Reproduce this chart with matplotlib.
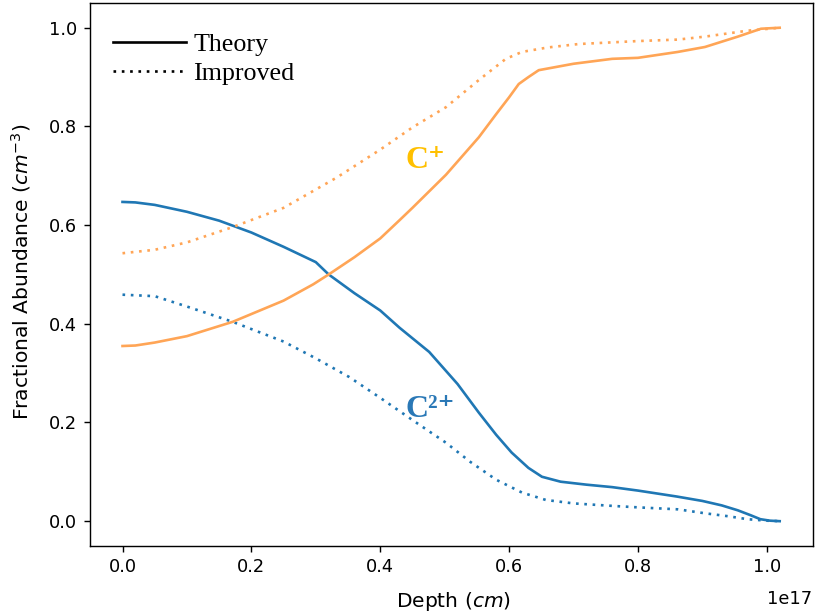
import matplotlib
matplotlib.use("Agg")
import matplotlib.pyplot as plt
import numpy as np
from matplotlib.lines import Line2D

# scale factor: picture looks like a default 6.4x4.8 figure blown up to 815 px wide
s = 1.2735
plt.rcParams['font.size'] = 10 * s
plt.rcParams['axes.linewidth'] = 0.8 * s
plt.rcParams['xtick.major.width'] = 0.8 * s
plt.rcParams['ytick.major.width'] = 0.8 * s
plt.rcParams['xtick.major.size'] = 3.5 * s
plt.rcParams['ytick.major.size'] = 3.5 * s
plt.rcParams['xtick.major.pad'] = 3.5 * s
plt.rcParams['ytick.major.pad'] = 3.5 * s

# Data (depth in units of 1e17 cm)
d_c2_theory = [0, 0.02, 0.05, 0.1, 0.15, 0.2, 0.25, 0.3, 0.32, 0.36, 0.4, 0.43, 0.476, 0.52,
               0.553, 0.58, 0.604, 0.63, 0.651, 0.68, 0.72, 0.76, 0.8, 0.86, 0.9, 0.93, 0.955,
               0.975, 0.99, 1.005, 1.02]
c2_theory = [0.647, 0.646, 0.641, 0.627, 0.609, 0.585, 0.556, 0.525, 0.5, 0.462, 0.427, 0.392,
             0.343, 0.278, 0.22, 0.175, 0.139, 0.108, 0.09, 0.08, 0.074, 0.069, 0.062, 0.05,
             0.041, 0.032, 0.022, 0.012, 0.004, 0.001, 0.0]

d_c2_improved = [0, 0.05, 0.1, 0.171, 0.25, 0.3, 0.352, 0.4, 0.45, 0.502, 0.54, 0.58, 0.62,
                 0.657, 0.7, 0.76, 0.8, 0.862, 0.904, 0.94, 0.97, 1.0, 1.02]
c2_improved = [0.459, 0.456, 0.435, 0.404, 0.364, 0.33, 0.292, 0.25, 0.205, 0.159, 0.12, 0.084,
               0.058, 0.043, 0.036, 0.031, 0.028, 0.024, 0.016, 0.01, 0.004, 0.001, 0.0]

d_c1_theory = [0, 0.02, 0.05, 0.1, 0.171, 0.25, 0.296, 0.32, 0.36, 0.4, 0.43, 0.45, 0.502, 0.553,
               0.58, 0.6, 0.615, 0.63, 0.646, 0.7, 0.76, 0.8, 0.862, 0.904, 0.955, 0.991, 1.02]
c1_theory = [0.355, 0.356, 0.362, 0.375, 0.404, 0.447, 0.48, 0.5, 0.535, 0.573, 0.61, 0.635,
             0.702, 0.778, 0.825, 0.859, 0.886, 0.9, 0.914, 0.927, 0.937, 0.939, 0.951, 0.961,
             0.982, 0.998, 1.0]

d_c1_improved = [0, 0.05, 0.1, 0.171, 0.25, 0.332, 0.4, 0.45, 0.502, 0.553, 0.595, 0.62, 0.66,
                 0.708, 0.8, 0.862, 0.904, 0.97, 1.02]
c1_improved = [0.543, 0.55, 0.565, 0.596, 0.635, 0.696, 0.753, 0.798, 0.839, 0.894, 0.937,
               0.951, 0.96, 0.967, 0.973, 0.976, 0.982, 0.994, 1.0]

blue = '#1f77b4'
orange = '#ffa556'
lw = 1.9
dots = (0, (1, 2.15))

fig = plt.figure(figsize=(8.15, 6.14), dpi=100)
ax = fig.add_axes([0.110, 0.111, 0.887, 0.884])

ax.plot(np.array(d_c2_theory) * 1e17, c2_theory, color=blue, lw=lw)
ax.plot(np.array(d_c2_improved) * 1e17, c2_improved, color=blue, lw=lw, ls=dots)
ax.plot(np.array(d_c1_theory) * 1e17, c1_theory, color=orange, lw=lw)
ax.plot(np.array(d_c1_improved) * 1e17, c1_improved, color=orange, lw=lw, ls=dots)

serif = ['Liberation Serif', 'DejaVu Serif']
ax.text(0.47e17, 0.716, 'C⁺', color='#ffc000', fontsize=23, family=serif,
        fontweight='bold', ha='center', va='baseline')
ax.text(0.478e17, 0.212, 'C²⁺', color='#2a78b6', fontsize=23, family=serif,
        fontweight='bold', ha='center', va='baseline')

handles = [Line2D([], [], color='black', lw=lw),
           Line2D([], [], color='black', lw=lw, ls=dots)]
ax.legend(handles, ['Theory', 'Improved'], loc='upper left', bbox_to_anchor=(0, 0.989),
          frameon=False, prop={'family': serif, 'size': 18.7}, handlelength=2.8,
          handletextpad=0.3, labelspacing=0.25)

ax.set_xlabel('Depth ($cm$)', fontsize=14.6)
ax.set_ylabel('Fractional Abundance ($cm^{-3}$)', fontsize=14.6)
ax.xaxis.set_label_coords(0.503, -0.081)
ax.yaxis.set_label_coords(-0.078, 0.505)
ax.xaxis.OFFSETTEXTPAD = 10

fig.savefig('out.png', dpi=100)
